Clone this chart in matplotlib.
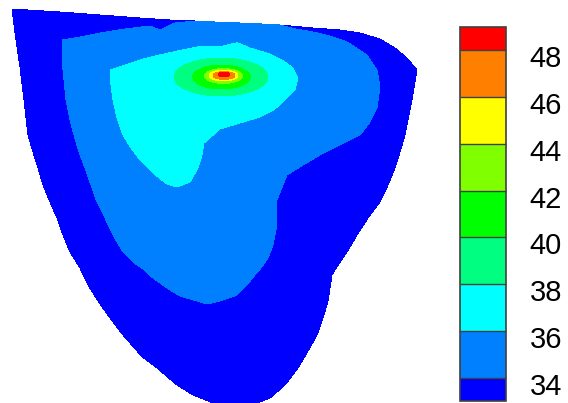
import numpy as np
import matplotlib.pyplot as plt
import matplotlib.tri as mtri
from matplotlib.path import Path
from matplotlib.transforms import ScaledTranslation

plt.rcParams['font.family'] = ['Liberation Sans', 'DejaVu Sans']

# contour levels and band colours
levels = [33, 34, 36, 38, 40, 42, 44, 46, 48, 49]
band_colors = ["#0000ff", "#0080ff", "#00ffff", "#00ff80", "#00ff00",
               "#80ff00", "#ffff00", "#ff8000", "#ff0000"]
tick_values = [34, 36, 38, 40, 42, 44, 46, 48]

# wall outline of the section and the value measured along it
outline_x = [12, 60, 100, 140, 170, 195, 215, 240, 262, 280, 313, 340, 360, 380,
             395, 407, 417, 412, 405, 400, 395, 388, 380, 368, 357, 347, 335, 332,
             328, 323, 317, 308, 298, 285, 270, 250, 230, 213, 193, 177, 157, 140,
             137, 123, 110, 98, 88, 80, 70, 63, 57, 50, 43, 38, 33, 28, 24, 20, 15]
outline_y = [9, 12, 15, 18, 20, 21, 22, 23, 24, 25, 28, 30, 33, 39,
             48, 58, 70, 100, 135, 152, 168, 185, 202, 218, 235, 252, 270, 275,
             301, 318, 335, 351, 368, 385, 398, 406, 407, 403, 395, 385, 368, 355,
             351, 335, 318, 301, 285, 268, 252, 235, 218, 202, 185, 168, 152, 135,
             100, 67, 33]
outline_v = [33, 33, 33, 33, 33, 34, 34.4, 34.5, 34.4, 34, 33, 33, 33, 33,
             33, 33, 33, 33, 33, 33, 33, 33, 33, 33, 33, 33, 33, 33,
             33, 33, 33, 33, 33, 33, 33, 33, 33, 33, 33, 33, 33, 33,
             33, 33, 33, 33, 33, 33, 33, 33, 33, 33, 33, 33, 33, 33,
             33, 33, 33]

# samples on the 34 isoline
iso34_x = [175, 150, 125, 100, 80, 62, 63, 66, 70, 74, 79, 85, 91, 97, 105, 113,
           123, 133, 143, 153, 167, 180, 197, 207, 220, 237, 247, 255, 261, 268,
           273, 276, 277, 277, 277, 277, 287, 303, 320, 340, 360, 370, 377, 380,
           377, 367, 347, 330, 313, 296]
iso34_y = [23, 26, 29, 33, 37, 40, 70, 100, 120, 135, 152, 168, 185, 202, 218, 235,
           252, 262, 269, 278, 288, 296, 301, 304, 301, 295, 285, 275, 268, 258,
           245, 230, 215, 200, 185, 178, 175, 165, 155, 145, 135, 122, 108, 87,
           70, 55, 42, 36, 32, 29]

# samples on the 36 isoline
iso36_x = [110, 111, 113, 117, 123, 131, 140, 153, 167, 177, 190, 198, 202, 204,
           206, 220, 240, 260, 272, 280, 287, 295, 298, 293, 282, 270, 250, 223,
           197, 173, 155, 140, 125]
iso36_y = [70, 85, 100, 118, 135, 148, 160, 173, 184, 187, 182, 168, 155, 143,
           133, 129, 123, 117, 111, 105, 98, 90, 78, 68, 60, 54, 48, 46,
           47, 52, 56, 60, 65]

# interior samples
inner_x = [145, 165, 185, 135, 180, 240, 283, 150,
           85, 95, 115, 150, 190, 230, 240, 250, 210, 320, 340, 320, 300, 250,
           200, 240, 150, 90,
           330, 300, 240, 180, 40]
inner_y = [105, 140, 165, 80, 110, 108, 78, 75,
           90, 150, 200, 230, 240, 220, 170, 270, 280, 100, 70, 130, 150, 140,
           32, 35, 40, 55,
           200, 300, 350, 340, 60]
inner_v = [37.2, 37.0, 36.6, 37.0, 37.5, 37.2, 37.0, 37.3,
           35.0, 35.0, 35.0, 35.2, 35.3, 35.4, 35.6, 34.8, 34.7, 35.3, 35.2, 35.0,
           35.2, 35.8, 35.0, 35.0, 35.0, 35.0,
           33.5, 33.4, 33.4, 33.3, 33.4]

# hot spot: peak and elliptical isolines around it
peak_x, peak_y, peak_v = 224, 75, 49.0
ring_v = [38, 40, 42, 44, 46, 48]
ring_cx = [221, 221.5, 223.5, 223.5, 224, 224]
ring_cy = [77, 77, 76, 75.5, 75.5, 74.5]
ring_a = [47, 29, 19, 14.5, 11, 6]
ring_b = [19, 12, 7.5, 5.5, 3.8, 2.5]

# gather all samples
t = np.linspace(0, 2 * np.pi, 28, endpoint=False)
xs = [outline_x, iso34_x, iso36_x, inner_x, [peak_x]]
ys = [outline_y, iso34_y, iso36_y, inner_y, [peak_y]]
vs = [outline_v, [34] * len(iso34_x), [36] * len(iso36_x), inner_v, [peak_v]]
for v, cx, cy, a, b in zip(ring_v, ring_cx, ring_cy, ring_a, ring_b):
    xs.append(cx + a * np.cos(t))
    ys.append(cy + b * np.sin(t))
    vs.append(np.full(t.size, v))
x = np.concatenate(xs).astype(float)
y = np.concatenate(ys).astype(float)
z = np.concatenate(vs).astype(float)

tri = mtri.Triangulation(x, y)
wall = Path(np.column_stack([outline_x, outline_y]))
cen = np.column_stack([x[tri.triangles].mean(axis=1), y[tri.triangles].mean(axis=1)])
tri.set_mask(~wall.contains_points(cen))

fig = plt.figure(figsize=(5.68, 4.03), dpi=100)
ax = fig.add_axes([0, 0, 420 / 568, 1])
cs = ax.tricontourf(tri, z, levels=levels, colors=band_colors)
ax.set_xlim(0, 420)
ax.set_ylim(403, 0)
ax.axis('off')

cax = fig.add_axes([460 / 568, 2 / 403, 46 / 568, 374 / 403])
cb = fig.colorbar(cs, cax=cax, ticks=tick_values, spacing='proportional',
                  drawedges=True)
cb.outline.set_edgecolor('#404040')
cb.outline.set_linewidth(1.2)
cb.dividers.set_color('#404040')
cb.dividers.set_linewidth(1.0)
cax.tick_params(length=0, pad=17, labelsize=21)
shift = ScaledTranslation(0, -0.06, fig.dpi_scale_trans)
for lbl in cax.get_yticklabels():
    lbl.set_transform(lbl.get_transform() + shift)

fig.savefig('out.png', dpi=100)
